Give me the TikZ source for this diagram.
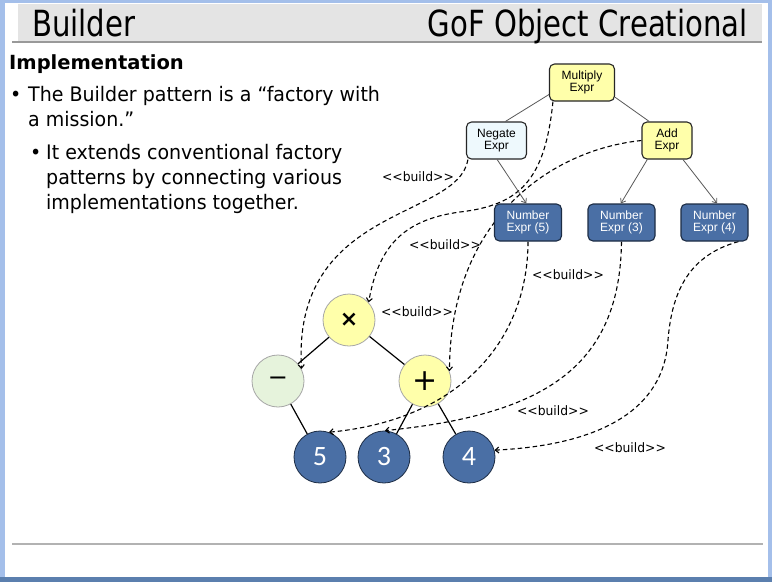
\documentclass[tikz,border=0pt]{standalone}
\usepackage{fontspec}
\setmainfont{DejaVu Sans}[FakeStretch=0.95]
\newfontfamily\titlefont{DejaVu Sans}[FakeStretch=0.81]
\newfontfamily\implfont{DejaVu Sans}
\newfontfamily\boxfont{Liberation Sans}
\newfontfamily\numfont{Carlito}
\newfontfamily\symbfont{DejaVu Sans}
\usetikzlibrary{arrows.meta,calc}
\definecolor{yfill}{HTML}{FFFFAA}
\definecolor{cfill}{HTML}{EEF9FD}
\definecolor{bfill}{HTML}{4A6FA5}
\definecolor{bdraw}{HTML}{1C2C44}
\definecolor{gfill}{HTML}{E6F3DC}
\definecolor{frameblue}{HTML}{A4BFEA}
\definecolor{framedark}{HTML}{5B7FAE}
\definecolor{titlegray}{HTML}{E4E4E4}
\pgfdeclarelayer{bg}
\pgfdeclarelayer{circ}
\pgfdeclarelayer{dash}
\pgfsetlayers{bg,circ,dash,main}
\begin{document}
\begin{tikzpicture}[x=1pt,y=-1pt,
  boxbase/.style={draw=black!85, line width=1.1pt, rounded corners=5pt, minimum height=37pt,
    align=center, inner sep=0pt, font=\boxfont\fontsize{12}{12}\selectfont},
  ybox/.style={boxbase, fill=yfill},
  cbox/.style={boxbase, fill=cfill},
  nbox/.style={boxbase, fill=bfill, draw=bdraw, text=white, minimum width=67pt},
  circbase/.style={circle, minimum size=52pt, inner sep=0pt, line width=0.8pt},
  ycirc/.style={circbase, fill=yfill, draw=black!35},
  gcirc/.style={circbase, fill=gfill, draw=black!35},
  bcirc/.style={circbase, fill=bfill, draw=bdraw, text=white, font=\numfont\fontsize{28}{28}\selectfont},
  treeedge/.style={draw=black!65, line width=0.8pt},
  treearrow/.style={treeedge, -{Straight Barb[length=4pt,width=6pt]}},
  circedge/.style={draw=black, line width=1.2pt},
  buildarrow/.style={draw=black, line width=1.1pt, dash pattern=on 4.5pt off 3pt,
    -{Straight Barb[length=3.5pt,width=6pt]}},
  lbl/.style={font=\fontsize{13}{13}\selectfont, inner sep=0pt},
  bodytext/.style={anchor=base west, inner sep=0pt, font=\fontsize{20}{20}\selectfont}
]
\useasboundingbox (0,0) rectangle (772,582);

% frame
\begin{pgfonlayer}{bg}
\fill[frameblue] (0,0) rectangle (772,582);
\fill[framedark] (0,577) rectangle (772,582);
\fill[white] (5,3) rectangle (768,577);
\fill[titlegray] (18,4) rectangle (762,41);
\draw[black!40, line width=1.5pt] (12,42) -- (762,42);
\draw[black!30, line width=2pt] (12,543.5) -- (763,543.5);
\end{pgfonlayer}

% title
\node[anchor=base west, inner sep=0pt, font=\titlefont\fontsize{36}{36}\selectfont] (title) at (32,36) {Builder};
\node[anchor=base east, inner sep=0pt, font=\titlefont\fontsize{36}{36}\selectfont] (subtitle) at (748,36) {GoF Object Creational};

% body text
\node[anchor=base west, inner sep=0pt, font=\implfont\bfseries\fontsize{19.5}{19.5}\selectfont] (impl) at (9,69) {Implementation};
\node[bodytext] (bul1) at (10,101) {•};
\node[bodytext] (t1) at (28,101) {The Builder pattern is a “factory with};
\node[bodytext] (t2) at (28,126) {a mission.”};
\node[bodytext] (bul2) at (30,159) {•};
\node[bodytext] (t3) at (46,159) {It extends conventional factory};
\node[bodytext] (t4) at (46,184) {patterns by connecting various};
\node[bodytext] (t5) at (46,209) {implementations together.};

% circle tree
\begin{pgfonlayer}{circ}
\node[ycirc] (cx) at (349,320) {\symbfont\bfseries\fontsize{22}{22}\selectfont ×};
\node[gcirc] (cm) at (278,381) {\symbfont\fontsize{24}{24}\selectfont −};
\node[ycirc] (cp) at (425,381) {\symbfont\fontsize{30}{30}\selectfont +};
\node[bcirc] (c5) at (320,457) {5};
\node[bcirc] (c3) at (384,457) {3};
\node[bcirc] (c4) at (469,457) {4};
\draw[circedge] (cx) -- (cm);
\draw[circedge] (cx) -- (cp);
\draw[circedge] (cm) -- (c5);
\draw[circedge] (cp) -- (c3);
\draw[circedge] (cp) -- (c4);
\end{pgfonlayer}

% class tree boxes
\node[ybox, minimum width=65pt] (mul) at (582,82.5) {Multiply\\Expr};
\node[cbox, minimum width=60pt] (neg) at (496.5,140.5) {Negate\\Expr};
\node[ybox, minimum width=50pt] (add) at (667,140.5) {Add\\Expr};
\node[nbox] (n5) at (528,222.5) {Number\\Expr (5)};
\node[nbox] (n3) at (621.5,222.5) {Number\\Expr (3)};
\node[nbox] (n4) at (714.5,222.5) {Number\\Expr (4)};

\draw[treeedge] (mul.200) -- (neg.65);
\draw[treeedge] (mul.-24) -- (add.133);
\draw[treearrow] (neg.-88) -- (n5.95);
\draw[treearrow] (add.224) -- (n3.92);
\draw[treearrow] (add.-50) -- (n4.82);

% build arrows
\begin{pgfonlayer}{dash}
\coordinate (m1) at (460,212);
\coordinate (q1) at (668,340);
\draw[buildarrow] ($(neg.south west)+(2,0)$) .. controls (458,220) and (292,205) .. (cm.27);
\draw[buildarrow] ($(mul.south west)+(4,0)$) .. controls (545,180) and (520,205) .. (m1)
   .. controls (400,220) and (378,250) .. (cx.42);
\draw[buildarrow] (add.west) .. controls (550,150) and (450,220) .. (cp.22);
\draw[buildarrow] (n5.south) .. controls (528,340) and (460,420) .. (c5.70);
\draw[buildarrow] (n3.south) .. controls (620,370) and (540,415) .. (c3.88);
\draw[buildarrow] ($(n4.south east)+(-10,0)$) .. controls (690,255) and (672,290) .. (q1)
   .. controls (664,410) and (600,445) .. (c4.15);
\end{pgfonlayer}

% labels
\node[lbl] (b1) at (418,177) {<\kern0pt<build>\kern0pt>};
\node[lbl] (b2) at (445,245) {<\kern0pt<build>\kern0pt>};
\node[lbl] (b3) at (568,275) {<\kern0pt<build>\kern0pt>};
\node[lbl] (b4) at (417,312) {<\kern0pt<build>\kern0pt>};
\node[lbl] (b5) at (553,411) {<\kern0pt<build>\kern0pt>};
\node[lbl] (b6) at (630,448) {<\kern0pt<build>\kern0pt>};
\end{tikzpicture}
\end{document}
